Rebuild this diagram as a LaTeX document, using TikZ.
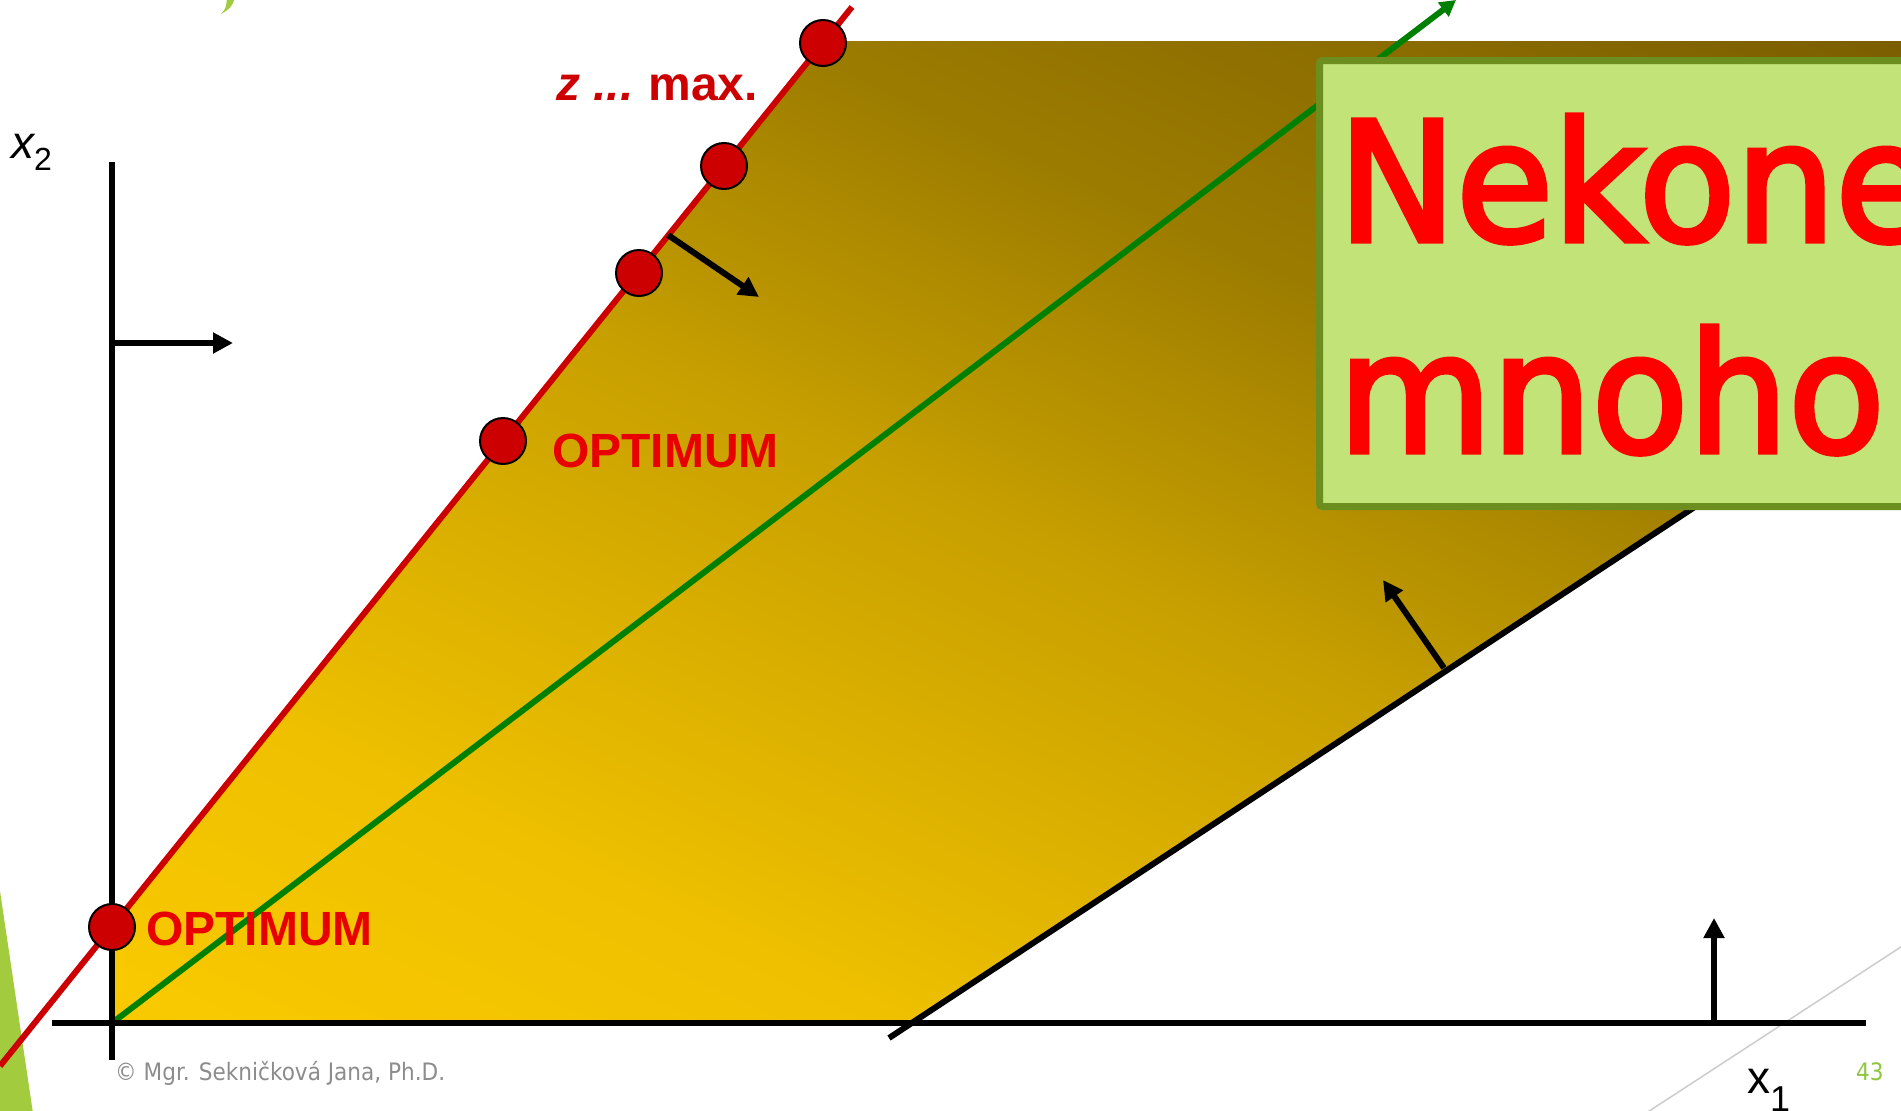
\documentclass[tikz,border=0pt]{standalone}
\usepackage{fontspec}
\setmainfont{Liberation Sans}
\newfontfamily\themefont[FakeStretch=0.9]{DejaVu Sans}
\newfontfamily\bigfont[FakeStretch=0.95,FakeBold=3]{DejaVu Sans}
\usetikzlibrary{arrows.meta}

\definecolor{fillA}{RGB}{250,202,0}
\definecolor{fillB}{RGB}{238,192,0}
\definecolor{fillC}{RGB}{200,160,0}
\definecolor{fillD}{RGB}{156,124,0}
\definecolor{fillE}{RGB}{122,93,0}
\definecolor{optRed}{RGB}{204,0,0}
\definecolor{labelRed}{RGB}{232,0,0}
\definecolor{lineGreen}{RGB}{0,128,0}
\definecolor{boxFill}{RGB}{193,227,119}
\definecolor{boxEdge}{RGB}{107,142,30}
\definecolor{themeGreen}{RGB}{163,203,62}
\definecolor{footGray}{RGB}{140,140,140}
\definecolor{numGreen}{RGB}{141,198,63}

\pgfdeclareverticalshading{regionshade}{100bp}{color(0bp)=(fillA); color(31bp)=(fillA);
  color(39bp)=(fillB); color(50bp)=(fillC); color(58bp)=(fillD); color(69bp)=(fillE); color(100bp)=(fillE)}

\begin{document}
\begin{tikzpicture}[x=1pt, y=-1pt,
  axis/.style={line width=6pt},
  normal/.style={line width=6pt, -{Triangle[length=20pt,width=20pt]}},
  optpoint/.style={circle, fill=optRed, draw=black, line width=2pt, minimum size=46pt, inner sep=0pt},
  optlabel/.style={anchor=base west, inner sep=0pt, text=labelRed, font=\fontsize{48}{48}\selectfont\bfseries},
  axislabel/.style={anchor=base west, inner sep=0pt, font=\fontsize{46}{46}\selectfont},
  footer/.style={anchor=base west, inner sep=0pt, text=footGray, font=\themefont\fontsize{24}{24}\selectfont},
  bigtext/.style={anchor=base west, inner sep=0pt, text=red, font=\bigfont\fontsize{166}{166}\selectfont},
  boxframe/.style={fill=boxFill, draw=boxEdge, line width=7pt, rounded corners=3pt}]

\useasboundingbox (0,0) rectangle (1901,1111);
\clip (0,0) rectangle (1901,1111);

% Points
\coordinate (O) at (112,1023);
\coordinate (xa0) at (52,1023);
\coordinate (xa1) at (1866,1023);
\coordinate (ya0) at (112,1060);
\coordinate (ya1) at (112,162);
\coordinate (r0) at (0,1066);
\coordinate (r1) at (852,7);
\coordinate (g1) at (1456,0);
\coordinate (b0) at (889,1038);
\coordinate (b1) at (1901,371);

% Feasible region
\begin{scope}
  \clip (O) -- (911,1023) -- (b1) -- (1901,41) -- (825,41) -- (112,927) -- cycle;
  \shade[shading=regionshade, shading angle=-25] (-94,-568) rectangle (2106,1632);
\end{scope}

% Slide decoration
\fill[themeGreen] (0,891) -- (34,1120) -- (0,1120) -- cycle;
\fill[themeGreen] (221,14) .. controls (226,8) .. (227,-2) -- (235,-2) .. controls (231,8) .. cycle;
\draw[black!20, line width=1.5pt] (1640,1117) -- (1910,941);

% Constraint lines
\draw[line width=6pt] (b0) -- (b1);
\draw[lineGreen, line width=6pt, -{Triangle[length=16pt,width=17pt]}] (O) -- (g1);
\draw[optRed, line width=6pt] (r0) -- (r1);

% Axes
\draw[axis] (xa0) -- (xa1);
\draw[axis] (ya0) -- (ya1);

% Normal vectors
\coordinate (n1a) at (112,343);
\coordinate (n1b) at (233,343);
\coordinate (n2a) at (668,235);
\coordinate (n2b) at (759,297);
\coordinate (n3a) at (1444,668);
\coordinate (n3b) at (1383,580);
\coordinate (n4a) at (1714,1023);
\coordinate (n4b) at (1714,918);
\draw[normal] (n1a) -- (n1b);
\draw[normal] (n2a) -- (n2b);
\draw[normal] (n3a) -- (n3b);
\draw[normal] (n4a) -- (n4b);

% Optimal points
\node[optpoint] (p1) at (112,927) {};
\node[optpoint] (p2) at (503,441) {};
\node[optpoint] (p3) at (639,273) {};
\node[optpoint] (p4) at (724,166) {};
\node[optpoint] (p5) at (823,43) {};

% Labels
\node[optlabel] (opt1) at (146,945) {OPTIMUM};
\node[optlabel] (opt2) at (552,467) {OPTIMUM};
\node[optlabel, text=optRed] (zmax) at (556,100) {{\itshape z ...}\hspace{-3pt} max.};
\node[axislabel] (x2lab) at (11,158) {\itshape x\upshape\raisebox{-12pt}{\fontsize{32}{32}\selectfont 2}};
\node[axislabel] (x1lab) at (1747,1093) {x\raisebox{-18pt}{\fontsize{36}{36}\selectfont 1}};
\node[footer] (author) at (115,1080) {© Mgr. Sekničková Jana, Ph.D.};
\node[footer, text=numGreen] (page) at (1856,1080) {43};

% Text box
\filldraw[boxframe] (1319.5,60.5) rectangle (1960,506.5);
\node[bigtext] (line1) at (1338,241) {Nekonečně};
\node[bigtext] (line2) at (1338,452) {mnoho};

\end{tikzpicture}
\end{document}
